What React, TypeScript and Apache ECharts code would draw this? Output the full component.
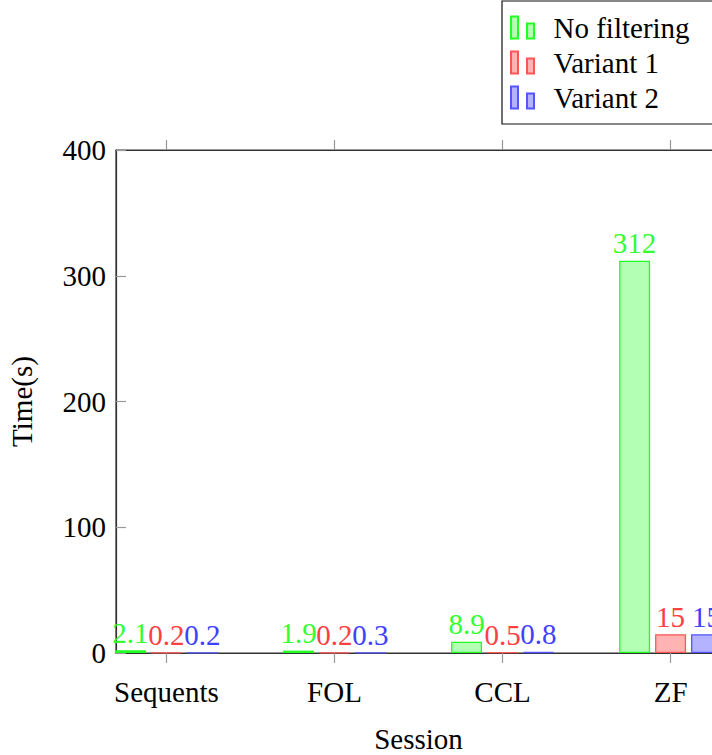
import React, { useEffect, useRef } from "react";
import * as echarts from "echarts";

const categories = ["Sequents", "FOL", "CCL", "ZF"];
const seriesNames = ["No filtering", "Variant 1", "Variant 2"];
const noFiltering = [2.1, 1.9, 8.9, 312];
const variant1 = [0.2, 0.2, 0.5, 15];
const variant2 = [0.2, 0.3, 0.8, 15];
const yTicks = [0, 100, 200, 300, 400];

const fills = ["#b3ffb3", "#ffb3b3", "#b3b3ff"];
const borders = ["#22ff22", "#ff5555", "#5555ff"];
const textColors = ["#33ff33", "#ff4040", "#4040ff"];

const FONT = "Liberation Serif";
const FS = 29;

export default function App() {
  const ref = useRef<HTMLDivElement>(null);
  useEffect(() => {
    if (!ref.current) return;
    const chart = echarts.init(ref.current, null, { renderer: "svg" });
    const xs = categories.map((_, i) => i);
    const values = [noFiltering, variant1, variant2];
    const series = values.map((vals, s) => ({
      type: "bar",
      name: seriesNames[s],
      data: vals.map((v, i) => [xs[i], v]),
      barWidth: 31,
      barGap: "16%",
      itemStyle: { color: fills[s], borderColor: borders[s], borderWidth: 1.3 },
      label: {
        show: true,
        position: "top",
        distance: 3,
        color: textColors[s],
        fontFamily: FONT,
        fontSize: FS,
        formatter: (p: any) => String(p.value[1]),
      },
    }));
    chart.setOption({
      animation: false,
      grid: {
        left: 116,
        top: 150,
        bottom: 102,
        right: 39,
        show: true,
        borderColor: "#333",
        borderWidth: 1.2,
        outerBoundsMode: "none",
        containLabel: false,
      },
      legend: {
        orient: "vertical",
        left: 502,
        top: 1,
        data: seriesNames,
        borderColor: "#111",
        borderWidth: 1.2,
        padding: [12, 40, 12, 8],
        itemWidth: 24,
        itemHeight: 22,
        itemGap: 6,
        icon: "path://M0,0L7,0L7,22L0,22Z M16,7L23,7L23,22L16,22Z",
        textStyle: {
          fontFamily: FONT,
          fontSize: FS,
          color: "#000",
          padding: [0, 0, 0, 14],
        },
      },
      xAxis: [
        {
          type: "value",
          min: -0.3,
          max: 3.3,
          position: "bottom",
          name: "Session",
          nameLocation: "middle",
          nameGap: 71,
          nameTextStyle: { fontFamily: FONT, fontSize: FS, color: "#000" },
          splitLine: { show: false },
          axisLine: { show: true, onZero: false, lineStyle: { color: "#333", width: 1.2 } },
          axisTick: {
            show: true,
            inside: false,
            length: 10,
            customValues: xs,
            lineStyle: { color: "#999", width: 1.2 },
          },
          axisLabel: {
            show: true,
            customValues: xs,
            margin: 24,
            fontFamily: FONT,
            fontSize: FS,
            color: "#000",
            formatter: (v: number) => categories[Math.round(v)] ?? "",
          },
        },
        {
          type: "value",
          min: -0.3,
          max: 3.3,
          position: "top",
          splitLine: { show: false },
          axisLine: { show: true, onZero: false, lineStyle: { color: "#333", width: 1.2 } },
          axisTick: {
            show: true,
            inside: false,
            length: 10,
            customValues: xs,
            lineStyle: { color: "#999", width: 1.2 },
          },
          axisLabel: { show: false, customValues: xs },
        },
      ],
      yAxis: {
        type: "value",
        min: yTicks[0],
        max: yTicks[yTicks.length - 1],
        interval: 100,
        name: "Time(s)",
        nameLocation: "middle",
        nameGap: 80,
        nameTextStyle: { fontFamily: FONT, fontSize: FS, color: "#000" },
        splitLine: { show: false },
        axisLine: { show: true, onZero: false, lineStyle: { color: "#333", width: 1.2 } },
        axisTick: { show: true, inside: true, length: 10, lineStyle: { color: "#999", width: 1.2 } },
        axisLabel: { fontFamily: FONT, fontSize: FS, color: "#000", margin: 10 },
      },
      series,
    });
    return () => chart.dispose();
  }, []);
  return (
    <div style={{ position: "fixed", left: 0, top: 0, width: 712, height: 755, overflow: "hidden", background: "#fff" }}>
      <div ref={ref} style={{ width: 760, height: 755 }} />
    </div>
  );
}
